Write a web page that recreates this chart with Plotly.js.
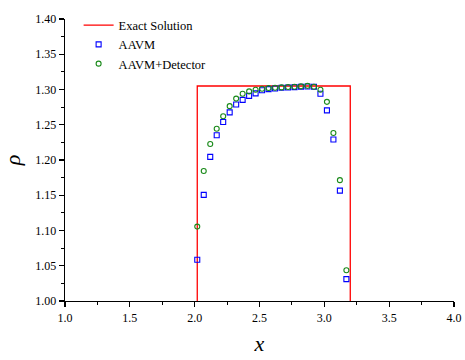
<!DOCTYPE html>
<html>
<head>
<meta charset="utf-8">
<script src="https://cdn.plot.ly/plotly-3.0.1.min.js"></script>
<style>html,body{margin:0;padding:0;background:#fff}#chart{width:465px;height:360px}</style>
</head>
<body>
<div id="chart"></div>
<script>
const exactX = [2.02, 2.02, 3.2, 3.2];
const exactY = [1.0, 1.305, 1.305, 1.0];

const gridX = [2.02, 2.07, 2.12, 2.17, 2.22, 2.27, 2.32, 2.37, 2.42, 2.47, 2.52, 2.57,
               2.62, 2.67, 2.72, 2.77, 2.82, 2.87, 2.92, 2.97, 3.02, 3.07, 3.12, 3.17];
const aavmY = [1.0585, 1.1505, 1.2044, 1.235, 1.254, 1.2676, 1.2787, 1.2853, 1.2909, 1.2945, 1.299, 1.3006,
               1.3015, 1.3024, 1.3029, 1.3034, 1.3038, 1.3043, 1.3038, 1.294, 1.2704, 1.229, 1.1565, 1.031];
const detY = [1.1055, 1.1844, 1.2226, 1.2443, 1.262, 1.2764, 1.2871, 1.294, 1.2973, 1.2997, 1.301, 1.302,
              1.3025, 1.303, 1.3035, 1.304, 1.3045, 1.3052, 1.304, 1.2997, 1.2825, 1.2383, 1.1714, 1.0437];

const font = 'Liberation Serif';

const traces = [
  {x: exactX, y: exactY, type: 'scatter', mode: 'lines', name: 'Exact Solution',
   line: {color: '#ff0000', width: 1.3}},
  {x: gridX, y: aavmY, type: 'scatter', mode: 'markers', name: 'AAVM',
   marker: {symbol: 'square-open', color: '#0000ff', size: 5, line: {width: 1.1, color: '#0000ff'}}},
  {x: gridX, y: detY, type: 'scatter', mode: 'markers', name: 'AAVM+Detector',
   marker: {symbol: 'circle-open', color: '#1a8a1a', size: 5, line: {width: 1.1, color: '#1a8a1a'}}}
];

const layout = {
  width: 465, height: 360,
  margin: {l: 65, r: 11, t: 14, b: 59},
  paper_bgcolor: '#fff', plot_bgcolor: '#fff',
  font: {family: font, size: 12, color: '#000'},
  showlegend: true,
  legend: {x: 0.035, y: 1.03, xanchor: 'left', yanchor: 'top', bgcolor: 'rgba(0,0,0,0)',
           font: {family: font, size: 12.5, color: '#000'}, tracegroupgap: 0, itemwidth: 30},
  xaxis: {
    range: [1.0, 4.0], dtick: 0.5, tick0: 1.0, tickformat: '.1f', layer: 'above traces',
    showgrid: false, zeroline: false, showline: true, linecolor: '#000', linewidth: 1.3,
    ticks: 'outside', ticklen: 5, tickwidth: 1.3, tickcolor: '#000',
    minor: {dtick: 0.25, ticklen: 3, tickwidth: 1, tickcolor: '#000', ticks: 'outside', showgrid: false},
    title: {text: '<i>x</i>', font: {family: font, size: 22, color: '#000'}, standoff: 12},
    tickfont: {family: font, size: 12, color: '#000'}
  },
  yaxis: {
    range: [1.0, 1.4], dtick: 0.05, tick0: 1.0, tickformat: '.2f', layer: 'above traces',
    showgrid: false, zeroline: false, showline: true, linecolor: '#000', linewidth: 1.3,
    ticks: 'outside', ticklen: 5, tickwidth: 1.3, tickcolor: '#000',
    minor: {dtick: 0.025, ticklen: 3, tickwidth: 1, tickcolor: '#000', ticks: 'outside', showgrid: false},
    title: {text: '<i>ρ</i>', font: {family: font, size: 22, color: '#000'}, standoff: 14},
    tickfont: {family: font, size: 12, color: '#000'}
  }
};

Plotly.newPlot('chart', traces, layout, {staticPlot: true, displayModeBar: false});
</script>
</body>
</html>
